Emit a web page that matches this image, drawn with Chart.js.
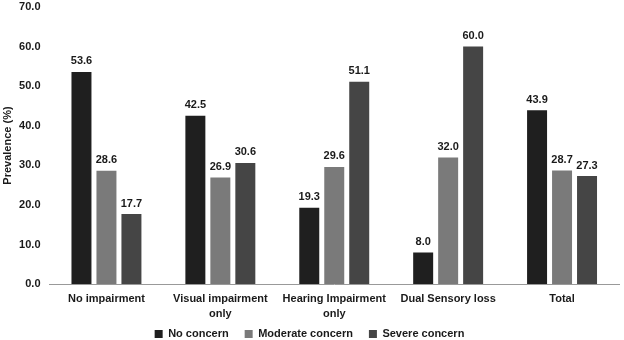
<!DOCTYPE html>
<html>
<head>
<meta charset="utf-8">
<script src="https://cdn.jsdelivr.net/npm/chart.js@4"></script>
<style>
  html, body { margin: 0; padding: 0; background: #fff; }
  #wrap { width: 624px; height: 340px; }
</style>
</head>
<body>
<div id="wrap"><canvas id="chart" width="624" height="340"></canvas></div>
<script>
const categories = ['No impairment', ['Visual impairment', 'only'], ['Hearing Impairment', 'only'], 'Dual Sensory loss', 'Total'];
const noConcern = [53.6, 42.5, 19.3, 8.0, 43.9];
const moderateConcern = [28.6, 26.9, 29.6, 32.0, 28.7];
const severeConcern = [17.7, 30.6, 51.1, 60.0, 27.3];
const yTicks = [0, 10, 20, 30, 40, 50, 60, 70];

const fontFam = '"Liberation Sans", Arial, sans-serif';

// draws the value above each bar
const valueLabels = {
    id: 'valueLabels',
    afterDatasetsDraw(chart) {
        const ctx = chart.ctx;
        ctx.save();
        ctx.font = 'bold 11px ' + fontFam;
        ctx.fillStyle = '#1a1a1a';
        ctx.textAlign = 'center';
        ctx.textBaseline = 'bottom';
        chart.data.datasets.forEach((ds, i) => {
            chart.getDatasetMeta(i).data.forEach((bar, j) => {
                ctx.fillText(ds.data[j].toFixed(1), bar.x, bar.y - 5);
            });
        });
        ctx.restore();
    }
};

// legend sits closer to the axis labels than its padding would allow
const legendNudge = {
    id: 'legendNudge',
    afterLayout(chart) {
        chart.legend.top -= 15.5;
        chart.legend.bottom -= 15.5;
    }
};

new Chart(document.getElementById('chart').getContext('2d'), {
    type: 'bar',
    data: {
        labels: categories,
        datasets: [
            { label: 'No concern', data: noConcern, backgroundColor: '#1f1f1f', borderWidth: 0 },
            { label: 'Moderate concern', data: moderateConcern, backgroundColor: '#7a7a7a', borderWidth: 0 },
            { label: 'Severe concern', data: severeConcern, backgroundColor: '#454545', borderWidth: 0 }
        ]
    },
    options: {
        responsive: false,
        animation: false,
        layout: { padding: { top: 7, right: 5, left: 0, bottom: -25 } },
        datasets: { bar: { categoryPercentage: 0.658, barPercentage: 0.8 } },
        plugins: {
            legend: {
                position: 'bottom',
                labels: {
                    font: { family: fontFam, size: 11, weight: 'bold' },
                    color: '#1a1a1a',
                    boxWidth: 8,
                    boxHeight: 8,
                    padding: 16
                }
            },
            tooltip: { enabled: false }
        },
        scales: {
            x: {
                grid: { display: false, drawTicks: false },
                border: { color: '#999999', width: 1 },
                ticks: {
                    font: { family: fontFam, size: 11, weight: 'bold', lineHeight: 1.36 },
                    color: '#1a1a1a',
                    padding: 7,
                    maxRotation: 0,
                    autoSkip: false
                }
            },
            y: {
                min: 0,
                max: 70,
                afterBuildTicks(axis) { axis.ticks = yTicks.map(v => ({ value: v })); },
                afterFit(scale) { scale.width = 49.5; scale.paddingTop = 0; },
                grid: { display: false, drawTicks: false },
                border: { display: false },
                title: {
                    display: true,
                    text: 'Prevalence (%)',
                    font: { family: fontFam, size: 11, weight: 'bold' },
                    color: '#1a1a1a',
                    padding: { top: 1, bottom: 0 }
                },
                ticks: {
                    font: { family: fontFam, size: 11, weight: 'bold' },
                    color: '#1a1a1a',
                    padding: 9,
                    callback: v => v.toFixed(1)
                }
            }
        }
    },
    plugins: [valueLabels, legendNudge]
});
</script>
</body>
</html>
